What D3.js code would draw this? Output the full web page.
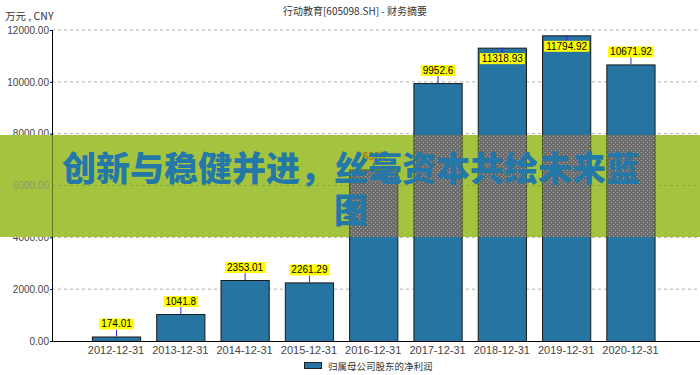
<!DOCTYPE html>
<html><head><meta charset="utf-8">
<script src="https://cdn.jsdelivr.net/npm/d3@7"></script>
<style>html,body{margin:0;padding:0;background:#fff;} svg{display:block}</style>
</head><body>
<svg id="c" width="700" height="375"></svg>
<script>
const categories = ["2012-12-31","2013-12-31","2014-12-31","2015-12-31","2016-12-31","2017-12-31","2018-12-31","2019-12-31","2020-12-31"];
const values = [174.01, 1041.8, 2353.01, 2261.29, 6620, 9952.6, 11318.93, 11794.92, 10671.92];
const yTicks = [0, 2000, 4000, 6000, 8000, 10000, 12000];
const seriesName = "归属母公司股东的净利润";
const titleText = "行动教育[605098.SH] - 财务摘要";
const unitText = "万元 , CNY";
const bannerLines = ["创新与稳健并进，丝毫资本共绘未来蓝", "图"];

const W = 700, H = 375;
const svg = d3.select("#c");
const font = "Liberation Sans, Arial, sans-serif";
const cjk = "'Noto Sans CJK SC', sans-serif";
const barColor = "#2574a1";
const x = d3.scaleBand().domain(categories).range([83.85, 662.6]).paddingInner(0.25).paddingOuter(0.125);
const y = d3.scaleLinear().domain([0, 12000]).range([341, 30]);
const axX = 52, axRight = 700;
const bandTop = 135, bandBot = 237;

const defs = svg.append("defs");
const pat = defs.append("pattern").attr("id","dither").attr("width",4).attr("height",4).attr("patternUnits","userSpaceOnUse");
pat.append("rect").attr("width",4).attr("height",4).attr("fill","#6c6c6c");
pat.append("rect").attr("x",1).attr("y",0).attr("width",1).attr("height",1).attr("fill","#a4c440");
pat.append("rect").attr("x",3).attr("y",2).attr("width",1).attr("height",1).attr("fill","#a4c440");
defs.append("clipPath").attr("id","bandClip").append("rect").attr("x",0).attr("y",bandTop).attr("width",W).attr("height",bandBot-bandTop);

// title & unit
svg.append("text").attr("x",355).attr("y",15).attr("text-anchor","middle").attr("font-family",cjk).attr("font-size",10).attr("fill","#333").text(titleText);
svg.append("text").attr("x",5).attr("y",20).attr("font-family",cjk).attr("font-size",10.5).attr("fill","#333").text(unitText);

// grid
svg.append("g").selectAll("line").data(yTicks.filter(d=>d>0)).join("line")
  .attr("x1",axX).attr("x2",axRight).attr("y1",d=>y(d)).attr("y2",d=>y(d))
  .attr("stroke","#b0b0b0").attr("stroke-dasharray","3,3").attr("stroke-width",1);

// y axis
const ya = svg.append("g").attr("transform",`translate(${axX},0)`)
  .call(d3.axisLeft(y).tickValues(yTicks).tickFormat(d3.format(".2f")).tickSize(2).tickPadding(1));
ya.select(".domain").remove();
ya.selectAll("text").attr("font-family",font).attr("font-size",10).attr("fill","#444");
ya.selectAll("line").attr("stroke","#000");
svg.append("line").attr("x1",axX+0.5).attr("x2",axX+0.5).attr("y1",30).attr("y2",341).attr("stroke","#000");

// bars
svg.append("g").selectAll("rect").data(values).join("rect")
  .attr("x",(d,i)=>x(categories[i])+0.5).attr("y",d=>y(d)+0.5)
  .attr("width",x.bandwidth()).attr("height",d=>y(0)-y(d))
  .attr("fill",barColor).attr("stroke","#1a1a1a").attr("stroke-width",1);

// x axis
const xa = svg.append("g").attr("transform","translate(0,341)")
  .call(d3.axisBottom(x).tickSize(0).tickPadding(5));
xa.select(".domain").remove();
xa.selectAll("text").attr("font-family",font).attr("font-size",11).attr("fill","#444");
svg.append("line").attr("x1",axX).attr("x2",axRight).attr("y1",341.5).attr("y2",341.5).attr("stroke","#000");

// value labels
function drawLabels(g, boxFill, textFill, lineColor) {
  values.forEach((v,i)=>{
    const cx = x(categories[i]) + x.bandwidth()/2 + 0.5;
    const top = y(v);
    const inside = v > 11000;
    const boxH = 11;
    const boxTop = inside ? top + 5.5 : top - 7 - boxH;
    g.append("line").attr("x1",cx).attr("x2",cx)
      .attr("y1",top).attr("y2",inside ? boxTop : boxTop+boxH)
      .attr("stroke",lineColor).attr("stroke-width",1);
    const r = g.append("rect");
    const t = g.append("text").attr("x",cx).attr("y",boxTop+boxH/2).attr("dy","0.35em")
      .attr("text-anchor","middle").attr("font-family",font).attr("font-size",10).attr("fill",textFill).text(String(v));
    const w = t.node().getComputedTextLength() + 4;
    r.attr("x",cx-w/2).attr("y",boxTop).attr("width",w).attr("height",boxH).attr("fill",boxFill);
  });
}
drawLabels(svg.append("g"), "#ffff00", "#000", "#2a2ad0");

// legend
svg.append("rect").attr("x",304.5).attr("y",362.5).attr("width",17).attr("height",6).attr("fill",barColor).attr("stroke","#222");
svg.append("text").attr("x",328).attr("y",370).attr("font-family",cjk).attr("font-size",9.5).attr("fill","#333").text(seriesName);

// banner overlay
svg.append("rect").attr("x",0).attr("y",bandTop).attr("width",W).attr("height",bandBot-bandTop).attr("fill","#a4c440");
const bg = svg.append("g").attr("clip-path","url(#bandClip)");
bg.selectAll("line.g").data(yTicks.filter(d=>d>0)).join("line").attr("class","g")
  .attr("x1",axX).attr("x2",axRight).attr("y1",d=>y(d)).attr("y2",d=>y(d))
  .attr("stroke","#8aa835").attr("stroke-dasharray","3,3");
bg.append("text").attr("x",axX-3).attr("y",y(6000)).attr("dy","0.32em").attr("text-anchor","end")
  .attr("font-family",font).attr("font-size",10).attr("fill","#8c9a6a").text(d3.format(".2f")(6000));
bg.append("line").attr("x1",axX+0.5).attr("x2",axX+0.5).attr("y1",bandTop).attr("y2",bandBot).attr("stroke","#5e7a1e");
bg.selectAll("rect.b").data(values).join("rect").attr("class","b")
  .attr("x",(d,i)=>x(categories[i])+0.5).attr("y",d=>y(d)+0.5)
  .attr("width",x.bandwidth()).attr("height",d=>y(0)-y(d))
  .attr("fill","url(#dither)").attr("stroke","#4a5a22").attr("stroke-width",1);
drawLabels(bg.append("g"), "#b8b820", "#6a7a30", "#5a6a40");

bannerLines.forEach((s,i)=>{
  svg.append("text").attr("x",351).attr("y",181 + i*42).attr("text-anchor","middle")
    .attr("font-family",cjk).attr("font-weight",900).attr("font-size",34).attr("fill","#2478a8").text(s);
});
</script>
</body></html>
